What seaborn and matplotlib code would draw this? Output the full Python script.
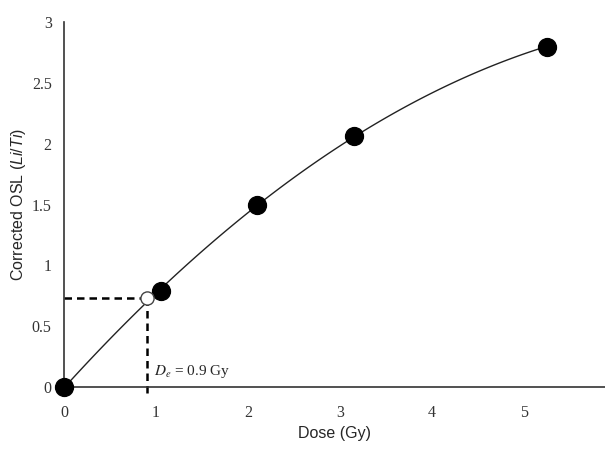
import matplotlib
matplotlib.use('AGG')
import matplotlib.pyplot as plt
import seaborn as sns
import pandas as pd

# measured dose points (Gy) and corrected OSL (Li/Ti)
DOSE = [0.0, 1.05, 2.1, 3.15, 5.25]
OSL = [0.0, 0.79, 1.5, 2.06, 2.8]

# interpolated equivalent dose
DE_DOSE = 0.9
DE_OSL = 0.73
DE_LABEL = r'$D_e$ = 0.9 Gy'

X_TICKS = [0, 1, 2, 3, 4, 5]
Y_TICKS = [0, 0.5, 1, 1.5, 2, 2.5, 3]
Y_TICK_LABELS = ['0', '0.5', '1', '1.5', '2', '2.5', '3']

sns.set_style('white')
plt.rcParams['mathtext.fontset'] = 'custom'
plt.rcParams['mathtext.rm'] = 'Liberation Sans'
plt.rcParams['mathtext.it'] = 'Liberation Sans:italic'

df = pd.DataFrame({'dose': DOSE, 'osl': OSL})

fig = plt.figure(figsize=(6.05, 4.53), dpi=100)
ax = fig.add_axes([0.106, 0.146, 0.894, 0.805])

# quadratic fit of the dose response
sns.regplot(data=df, x='dose', y='osl', order=2, ci=None, ax=ax,
            scatter=False, line_kws={'color': '#222222', 'linewidth': 1.0})
sns.scatterplot(data=df, x='dose', y='osl', ax=ax, s=165, color='black',
                edgecolor='black', zorder=5, clip_on=False)

# dashed guides to De
ax.plot([0, DE_DOSE], [DE_OSL, DE_OSL], ls=(0, (3, 2)), color='black', lw=1.8)
ax.plot([DE_DOSE, DE_DOSE], [DE_OSL, -0.06], ls=(0, (3, 2)), color='black',
        lw=1.8, clip_on=False)
ax.scatter([DE_DOSE], [DE_OSL], s=90, facecolor='white', edgecolor='#444444',
           linewidth=1.0, zorder=6)
ax.text(DE_DOSE + 0.08, 0.13, DE_LABEL, fontsize=11, family='Liberation Serif',
        math_fontfamily='stix', ha='left', va='center')

ax.set_xlim(0, 5.88)
ax.set_ylim(0, 3)
ax.set_xticks(X_TICKS)
ax.set_xticklabels([str(t) for t in X_TICKS])
ax.set_yticks(Y_TICKS)
ax.set_yticklabels(Y_TICK_LABELS)

for lab in ax.get_xticklabels() + ax.get_yticklabels():
    lab.set_family('Liberation Serif')
    lab.set_fontsize(11.5)
    lab.set_color('#333333')

ax.tick_params(axis='both', length=3, color='#666666', direction='out', pad=6)
ax.tick_params(axis='x', pad=10)

sns.despine(ax=ax)
for side in ['left', 'bottom']:
    ax.spines[side].set_color('#333333')
    ax.spines[side].set_linewidth(1.2)

ax.set_xlabel('Dose (Gy)', family='Liberation Sans', fontsize=11.5, labelpad=4)
ax.set_ylabel('Corrected OSL $\\it{(Li/Ti)}$', family='Liberation Sans',
              fontsize=11.5, labelpad=3)

plt.savefig('out.png', dpi=100)
